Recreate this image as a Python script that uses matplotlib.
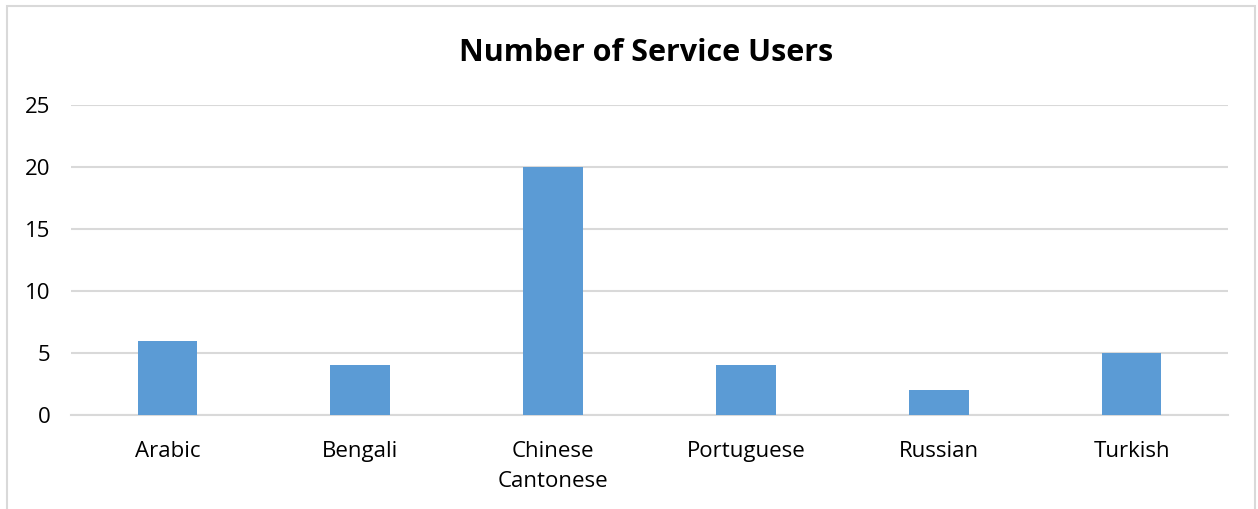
import matplotlib.pyplot as plt
from matplotlib.patches import Rectangle

languages = ['Arabic', 'Bengali', 'Chinese\nCantonese', 'Portuguese', 'Russian', 'Turkish']
users = [6, 4, 20, 4, 2, 5]
yticks = [0, 5, 10, 15, 20, 25]

BAR_COL = '#5B9BD5'
GRID_COL = '#D9D9D9'

plt.rcParams['font.family'] = ['Open Sans', 'DejaVu Sans']

fig = plt.figure(figsize=(12.58, 5.09), dpi=100)
# light chart border, bottom edge cut off like the reference
fig.patches.append(Rectangle((7 / 1258, -0.1), (1255 - 7) / 1258, 1.1 - 6 / 509,
                             transform=fig.transFigure, fill=False,
                             edgecolor=GRID_COL, linewidth=1.5))

ax = fig.add_axes([71 / 1258, 1 - 415 / 509, (1228 - 71) / 1258, (415 - 105) / 509])
x = range(len(languages))
ax.bar(x, users, width=0.31, color=BAR_COL, zorder=3)

ax.set_xlim(-0.5, len(languages) - 0.5)
ax.set_ylim(0, 25)
ax.set_yticks(yticks)
ax.set_xticks(list(x))
ax.set_xticklabels(languages, fontsize=16, linespacing=1.55)
ax.tick_params(axis='y', labelsize=16, length=0, pad=15)
ax.tick_params(axis='x', length=0, pad=19)
ax.grid(axis='y', color=GRID_COL, linewidth=1.5, zorder=0)
for s in ['top', 'right', 'left']:
    ax.spines[s].set_visible(False)
ax.spines['bottom'].set_color(GRID_COL)
ax.spines['bottom'].set_linewidth(1.5)

fig.text(646 / 1258, 1 - 53 / 509, 'Number of Service Users', ha='center', va='center',
         fontsize=22, fontweight='bold')

fig.savefig('out.png', dpi=100)
